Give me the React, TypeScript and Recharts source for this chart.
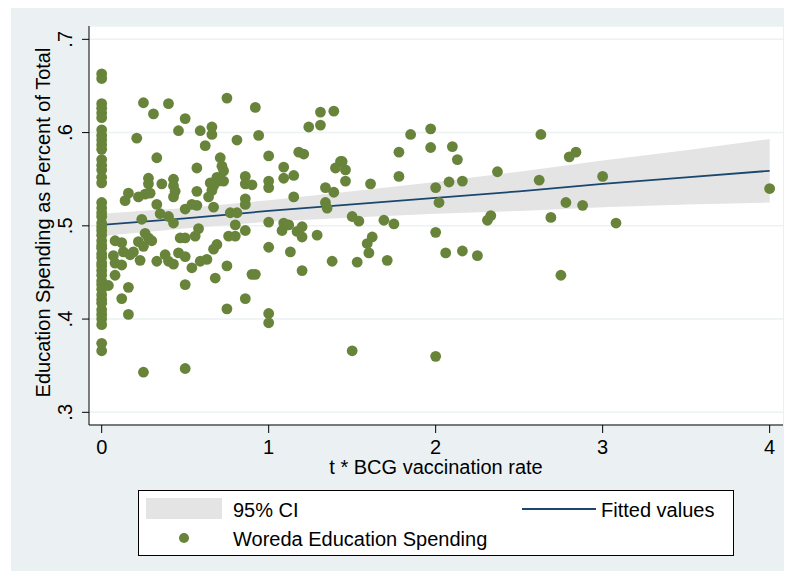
import React from 'react';
import {
  ComposedChart,
  Area,
  Line,
  Scatter,
  XAxis,
  YAxis,
  CartesianGrid,
  Label,
} from 'recharts';

// fitted line and 95% CI band
const fitX = [0, 0.5, 1, 1.5, 2, 2.5, 3, 3.5, 4];
const fitY = [0.501, 0.508, 0.516, 0.523, 0.53, 0.537, 0.545, 0.552, 0.559];
const ciLow = [0.489, 0.497, 0.5045, 0.509, 0.513, 0.516, 0.52, 0.523, 0.525];
const ciHigh = [0.513, 0.519, 0.5275, 0.537, 0.547, 0.558, 0.57, 0.581, 0.593];

// woredas with x = 0
const zeroY = [
  0.663, 0.658, 0.631, 0.626, 0.621, 0.616, 0.603, 0.597, 0.592, 0.587, 0.582,
  0.571, 0.565, 0.56, 0.552, 0.546, 0.525, 0.519, 0.514, 0.51, 0.503, 0.499,
  0.495, 0.49, 0.484, 0.479, 0.476, 0.47, 0.466, 0.46, 0.457, 0.452, 0.447,
  0.441, 0.437, 0.432, 0.426, 0.421, 0.417, 0.41, 0.405, 0.4, 0.394, 0.374, 0.366,
];

// remaining woredas: x values and matching y values
const spendX = [
  0.25, 0.31, 0.4, 0.5, 0.46, 0.59, 0.21, 0.33, 0.57, 0.28, 0.28, 0.43, 0.43, 0.36,
  0.14, 0.16, 0.22, 0.26, 0.29, 0.33, 0.43, 0.44, 0.57, 0.5, 0.54, 0.57, 0.35, 0.4,
  0.43, 0.24, 0.26, 0.28, 0.3, 0.22, 0.25, 0.08, 0.12, 0.13, 0.17, 0.19, 0.07, 0.08,
  0.12, 0.23, 0.33, 0.38, 0.4, 0.43, 0.46, 0.5, 0.54, 0.59, 0.63, 0.47, 0.5, 0.56,
  0.58, 0.08, 0.04, 0.16, 0.12, 0.16, 0.5, 0.25, 0.5,
  1.0, 1.0, 0.86, 0.75, 0.9, 0.68, 0.75, 1.0, 0.8, 0.86, 0.76, 0.8, 0.67, 0.69,
  1.0, 1.08, 1.09, 1.13,
  0.75, 0.92, 0.66, 0.66, 0.81, 0.94, 0.62, 1.24, 1.0, 1.18, 1.21, 1.09, 1.15,
  1.09, 0.71, 0.72, 0.73, 0.69, 0.7, 0.73, 0.65, 0.67, 0.66, 0.86, 0.86, 0.9, 1.0,
  1.0, 0.64, 0.67, 0.86, 0.86, 1.15, 0.77, 0.81, 1.12, 1.17, 1.2, 1.2, 0.92, 1.2,
  1.31, 1.39, 1.31, 1.85, 1.97, 1.97, 2.1, 2.13, 1.78, 1.43, 1.44, 1.4, 1.46, 1.46,
  1.34, 1.39, 1.61, 1.78, 2.0, 2.02, 2.08, 2.16, 2.37, 1.34, 1.35, 1.29, 1.5, 1.54,
  1.69, 1.75, 2.0, 2.31, 2.33, 1.38, 1.53, 1.59, 1.62, 1.6, 1.71, 2.06, 2.16, 2.25,
  1.5, 2.0,
  2.63, 2.8, 2.84, 2.62, 3.0, 2.78, 2.88, 2.69, 3.08, 2.75, 4.0,
];
const spendY = [
  0.632, 0.62, 0.631, 0.615, 0.602, 0.602, 0.594, 0.573, 0.562, 0.551, 0.545, 0.55,
  0.543, 0.545, 0.527, 0.535, 0.531, 0.534, 0.535, 0.523, 0.531, 0.537, 0.537,
  0.518, 0.523, 0.522, 0.513, 0.51, 0.503, 0.507, 0.492, 0.487, 0.484, 0.483, 0.478,
  0.484, 0.482, 0.472, 0.469, 0.472, 0.468, 0.46, 0.458, 0.463, 0.462, 0.469, 0.462,
  0.459, 0.471, 0.467, 0.455, 0.462, 0.464, 0.487, 0.487, 0.489, 0.497, 0.447,
  0.436, 0.434, 0.422, 0.405, 0.437, 0.343, 0.347,
  0.406, 0.396, 0.422, 0.411, 0.448, 0.444, 0.457, 0.477, 0.501, 0.495, 0.489,
  0.489, 0.475, 0.48, 0.504, 0.495, 0.503, 0.472,
  0.637, 0.627, 0.606, 0.598, 0.592, 0.597, 0.586, 0.606, 0.575, 0.579, 0.577,
  0.563, 0.554, 0.551, 0.573, 0.564, 0.559, 0.552, 0.548, 0.548, 0.546, 0.543,
  0.538, 0.553, 0.545, 0.544, 0.548, 0.541, 0.531, 0.52, 0.529, 0.523, 0.531,
  0.514, 0.514, 0.501, 0.494, 0.488, 0.499, 0.448, 0.452,
  0.622, 0.623, 0.608, 0.598, 0.604, 0.584, 0.585, 0.571, 0.579, 0.569, 0.569,
  0.562, 0.56, 0.548, 0.541, 0.536, 0.545, 0.553, 0.541, 0.525, 0.547, 0.548,
  0.558, 0.525, 0.519, 0.49, 0.51, 0.505, 0.506, 0.502, 0.493, 0.506, 0.511, 0.462,
  0.461, 0.481, 0.488, 0.471, 0.463, 0.471, 0.473, 0.468, 0.366, 0.36,
  0.598, 0.574, 0.579, 0.549, 0.553, 0.525, 0.522, 0.509, 0.503, 0.447, 0.54,
];

const xTicks = [0, 1, 2, 3, 4];
const yTicks = [0.3, 0.4, 0.5, 0.6, 0.7];

const ciRows = fitX.map((x, i) => ({ x, fit: fitY[i], lo: ciLow[i], hi: ciHigh[i] }));
const points = [
  ...zeroY.map((y) => ({ x: 0, y })),
  ...spendX.map((x, i) => ({ x, y: spendY[i] })),
];

const GREEN = '#68843A';
const NAVY = '#1A476F';
const BAND = '#E4E4E4';
const FONT = '"Liberation Sans", Arial, Helvetica, sans-serif';

const renderDot = (props: any) => (
  <circle cx={props.cx} cy={props.cy} r={5.4} fill={GREEN} />
);

const YTick = (props: any) => {
  const { x, y, payload } = props;
  const label = String(payload.value).replace(/^0/, '');
  return (
    <text
      transform={`translate(${x - 8},${y}) rotate(-90)`}
      textAnchor="middle"
      fontSize={20}
      fontFamily={FONT}
      fill="#000"
    >
      {label}
    </text>
  );
};

const XTick = (props: any) => {
  const { x, y, payload } = props;
  return (
    <text x={x} y={y + 19} textAnchor="middle" fontSize={20} fontFamily={FONT} fill="#000">
      {payload.value}
    </text>
  );
};

const App = () => {
  return (
    <div
      style={{
        position: 'relative',
        width: 792,
        height: 579,
        margin: -8,
        background: '#fff',
        overflow: 'hidden',
        fontFamily: FONT,
      }}
    >
      <div
        style={{ position: 'absolute', left: 11, top: 6, right: 0, bottom: 0, background: '#EBF1F3' }}
      />
      <div style={{ position: 'absolute', left: 0, top: 0 }}>
        <ComposedChart
          width={792}
          height={579}
          data={ciRows}
          margin={{ top: 26, right: 9, bottom: 0, left: 0 }}
        >
          <CartesianGrid
            vertical={false}
            stroke="#EAF2F3"
            strokeWidth={1.5}
            fill="#fff"
            fillOpacity={1}
          />
          <XAxis
            dataKey="x"
            type="number"
            domain={[-0.076, 4.08]}
            ticks={xTicks}
            allowDataOverflow
            height={154}
            tickSize={8}
            tickMargin={2}
            tickLine={{ stroke: '#000' }}
            axisLine={{ stroke: '#000' }}
            tick={<XTick />}
          >
            <Label
              content={(p: any) => (
                <text
                  x={p.viewBox.x + p.viewBox.width / 2}
                  y={p.viewBox.y + 49}
                  textAnchor="middle"
                  fontSize={20}
                  fontFamily={FONT}
                  fill="#000"
                >
                  t * BCG vaccination rate
                </text>
              )}
            />
          </XAxis>
          <YAxis
            type="number"
            domain={[0.2864, 0.7143]}
            ticks={yTicks}
            allowDataOverflow
            width={89}
            tickSize={7}
            tickMargin={2}
            tickLine={{ stroke: '#000' }}
            axisLine={{ stroke: '#000' }}
            tick={<YTick />}
          >
            <Label
              content={(p: any) => (
                <text
                  transform={`translate(50,${p.viewBox.y + p.viewBox.height / 2 - 3}) rotate(-90)`}
                  textAnchor="middle"
                  fontSize={20}
                  fontFamily={FONT}
                  fill="#000"
                >
                  Education Spending as Percent of Total
                </text>
              )}
            />
          </YAxis>
          <Area
            type="linear"
            dataKey={(d: any) => [d.lo, d.hi]}
            stroke="none"
            fill={BAND}
            fillOpacity={1}
            dot={false}
            activeDot={false}
            isAnimationActive={false}
          />
          <Line
            type="linear"
            dataKey="fit"
            stroke={NAVY}
            strokeWidth={1.8}
            dot={false}
            activeDot={false}
            isAnimationActive={false}
          />
          <Scatter
            data={points}
            dataKey="y"
            fill={GREEN}
            shape={renderDot}
            isAnimationActive={false}
          />
        </ComposedChart>
      </div>
      <svg
        width={596}
        height={67}
        style={{ position: 'absolute', left: 138, top: 490 }}
        fontFamily={FONT}
      >
        <rect x={0.5} y={0.5} width={595} height={65} fill="#fff" stroke="#000" strokeWidth={1} />
        <rect x={8} y={8} width={76} height={21} fill={BAND} />
        <text x={95} y={27} fontSize={20} fill="#000">95% CI</text>
        <line x1={384} x2={458} y1={19} y2={19} stroke={NAVY} strokeWidth={2} />
        <text x={463} y={27} fontSize={20} fill="#000">Fitted values</text>
        <circle cx={46} cy={48} r={5} fill={GREEN} />
        <text x={95} y={56} fontSize={20} fill="#000">Woreda Education Spending</text>
      </svg>
    </div>
  );
};

export default App;
